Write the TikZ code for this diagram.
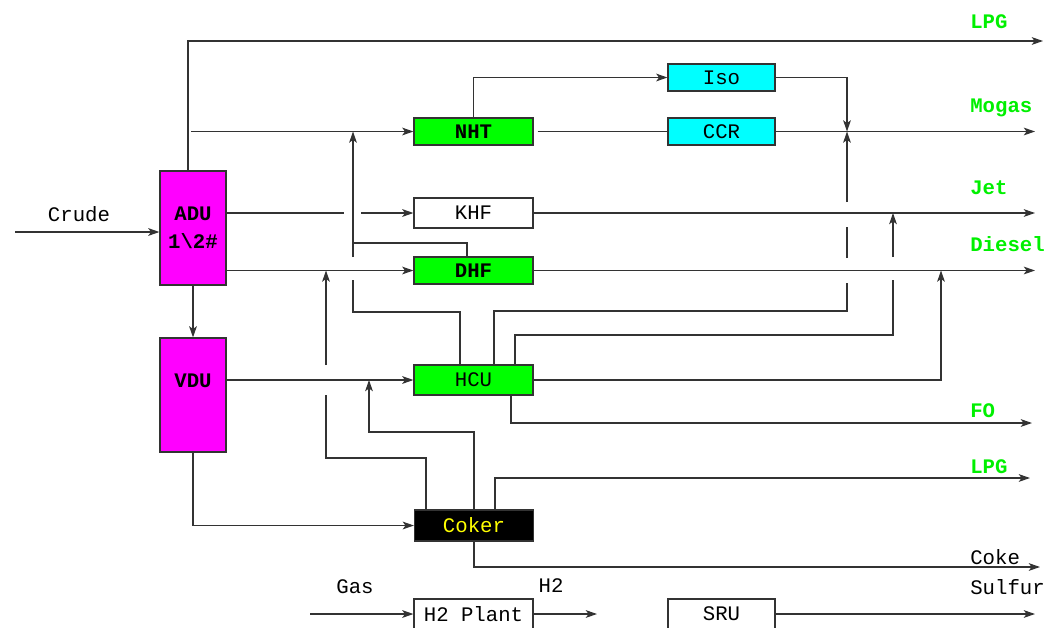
\documentclass[tikz,border=0pt]{standalone}
\usepackage{fontspec}
\setmainfont{Liberation Mono}
\definecolor{unitpink}{HTML}{FF00FF}
\definecolor{unitgreen}{HTML}{00FF00}
\definecolor{unitcyan}{HTML}{00FFFF}
\definecolor{prodgreen}{HTML}{00F000}
\definecolor{cokeyellow}{HTML}{FFFF00}
\definecolor{pipegray}{HTML}{333333}
\newcommand{\flowfont}{\fontsize{14.7}{19.9}\selectfont}
\usepackage{tikz}
\usetikzlibrary{arrows.meta}

\begin{document}
\begin{tikzpicture}[x=0.025cm, y=-0.025cm,
  unit/.style={draw=pipegray, line width=0.8pt, minimum width=2.975cm,
               minimum height=0.7cm, inner sep=0pt, font=\flowfont},
  tower/.style={unit, fill=unitpink, minimum width=1.65cm, minimum height=2.85cm,
                font=\flowfont\bfseries, align=center},
  pipe/.style={draw=pipegray, line width=0.85pt},
  flow/.style={pipe, -{Stealth[length=8pt, width=5.5pt, inset=2pt]}},
  prod/.style={anchor=west, inner sep=0pt, text=prodgreen, font=\flowfont\bfseries},
  tag/.style={inner sep=0pt, font=\flowfont},
]
\useasboundingbox (0,0) rectangle (1046,627);
\clip (0,0) rectangle (1046,627);

\node[tower] (ADU) at (193,228) {ADU\\1\textbackslash 2\#};
\node[tower, label={[tag, font=\flowfont\bfseries, yshift=0.35cm]center:VDU}] (VDU) at (193,395) {};

\node[unit, fill=unitgreen, minimum height=0.675cm, font=\flowfont\bfseries] (NHT) at (473.5,131.5) {NHT};
\node[unit, minimum height=0.75cm] (KHF) at (473.5,213) {KHF};
\node[unit, fill=unitgreen, minimum height=0.675cm, font=\flowfont\bfseries] (DHF) at (473.5,270.5) {DHF};
\node[unit, fill=unitgreen, minimum height=0.75cm] (HCU) at (473.5,380) {HCU};
\node[unit, fill=black, text=cokeyellow, minimum height=0.775cm] (Coker) at (474,525.5) {Coker};
\node[unit, minimum height=0.75cm] (H2P) at (473.5,614) {H2 Plant};
\node[unit, fill=unitcyan, minimum width=2.675cm, minimum height=0.675cm] (Iso) at (721.5,77.5) {Iso};
\node[unit, fill=unitcyan, minimum width=2.675cm, minimum height=0.675cm] (CCR) at (721.5,131.5) {CCR};
\node[unit, minimum width=2.675cm, minimum height=0.75cm] (SRU) at (721.5,614) {SRU};

\coordinate (crude) at (15,232);
\coordinate (out) at (1035,0);

\node[tag] (crudelbl) at (79,214) {Crude};
\node[tag] (gaslbl) at (355,587) {Gas};
\node[tag] (h2lbl) at (551,586) {H2};
\node[prod] (lpgtop) at (970,22) {LPG};
\node[prod] (mogas) at (970,108) {Mogas};
\node[prod] (jet) at (970,188) {Jet};
\node[prod] (diesel) at (970,244) {Diesel};
\node[prod] (fo) at (970,411) {FO};
\node[prod] (lpgcok) at (970,467) {LPG};
\node[tag, anchor=west] (coke) at (970,557) {Coke};
\node[tag, anchor=west] (sulfur) at (970,587) {Sulfur};

\draw[flow] (crude) -- (ADU.west |- crude);
\draw[flow] (188,0 |- ADU.north) |- (1043,41);
\draw[flow] (191,0 |- NHT.west) -- (NHT.west);
\draw[pipe] (ADU.east |- KHF.west) -- (344,0 |- KHF.west);
\draw[flow] (361,0 |- KHF.west) -- (KHF.west);
\draw[flow] (ADU.east |- DHF.west) -- (DHF.west);
\draw[flow] (ADU.south) -- (VDU.north);
\draw[flow] (VDU.east |- HCU.west) -- (HCU.west);
\draw[flow] (VDU.south) |- (Coker.west);

\draw[pipe] (460,0 |- HCU.north) |- (353,312) -- (353,280);
\draw[flow] (353,257) -- (353,0 |- NHT.west);
\draw[pipe] (467,0 |- DHF.north) |- (353,243);
\draw[pipe] (426,0 |- Coker.north) |- (326,458) -- (326,395);
\draw[flow] (326,365) -- (326,0 |- DHF.west);
\draw[flow] (Coker.north) |- (369,432) -- (369,0 |- HCU.west);
\draw[flow] (495,0 |- Coker.north) |- (1030,478);
\draw[flow] (Coker.south) |- (1040,567);

\draw[flow] (NHT.north) |- (Iso.west);
\draw[pipe] ([xshift=0.1cm]NHT.east) -- (CCR.west);
\draw[flow] (CCR.east) -- (CCR.east -| out);
\draw[flow] (Iso.east) -| (847,0 |- CCR.east);
\draw[pipe] (494,0 |- HCU.north) |- (847,311) -- (847,283);
\draw[pipe] (847,258) -- (847,227);
\draw[flow] (847,202) -- (847,0 |- CCR.east);
\draw[pipe] (515,0 |- HCU.north) |- (893,335) -- (893,280);
\draw[flow] (893,257) -- (893,0 |- KHF.east);
\draw[flow] (KHF.east) -- (KHF.east -| out);
\draw[flow] (DHF.east) -- (DHF.east -| out);
\draw[flow] (HCU.east) -| (941,0 |- DHF.east);
\draw[flow] (511,0 |- HCU.south) |- (1032,423);

\draw[flow] (310,0 |- H2P.west) -- (H2P.west);
\draw[flow] (H2P.east) -- (597,0 |- H2P.east);
\draw[flow] (SRU.east) -- (SRU.east -| out);
\end{tikzpicture}
\end{document}
